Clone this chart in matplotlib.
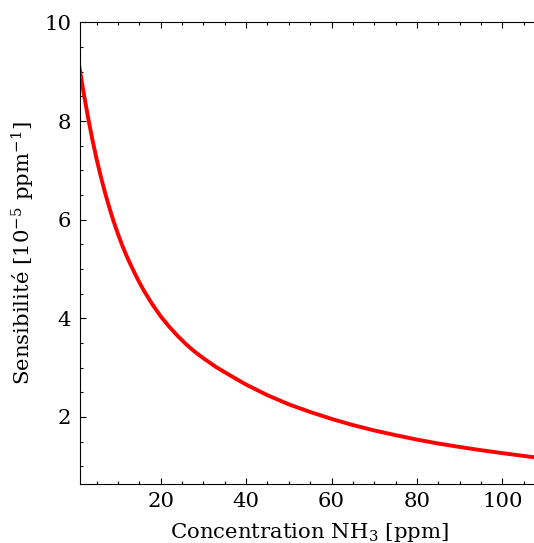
import numpy as np
import matplotlib
matplotlib.use('Agg')
import matplotlib.pyplot as plt
from matplotlib.ticker import MultipleLocator

# Concentration NH3 [ppm] and sensibility [1e-5 ppm^-1]
concentration = [1.0, 1.5, 2, 3, 4, 5, 6, 7, 8, 9, 10, 11, 12, 13, 14, 15, 16, 18,
                 20, 22, 24, 26, 28, 30, 33, 36, 40, 45, 50, 55, 60, 65, 70, 75,
                 80, 85, 90, 95, 100, 108.5]
sensibilite = [9.08, 8.82, 8.56, 8.07, 7.63, 7.23, 6.87, 6.54, 6.24, 5.96, 5.71,
               5.48, 5.27, 5.08, 4.90, 4.73, 4.57, 4.29, 4.04, 3.83, 3.64, 3.47,
               3.32, 3.19, 3.01, 2.855, 2.655, 2.44, 2.255, 2.10, 1.96, 1.835, 1.725,
               1.63, 1.54, 1.46, 1.39, 1.325, 1.265, 1.17]

xticks = [20, 40, 60, 80, 100]
yticks = [2, 4, 6, 8, 10]

plt.rcParams['font.family'] = 'DejaVu Serif'
plt.rcParams['mathtext.fontset'] = 'dejavuserif'
plt.rcParams['font.size'] = 15.3

fig = plt.figure(figsize=(5.34, 5.43), dpi=100)
ax = fig.add_axes([0.1489, 0.1087, 0.8600, 0.8499])

ax.plot(concentration, sensibilite, color='red', linewidth=2.8)

ax.set_xlim(1, 108.5)
ax.set_ylim(0.64, 10)
ax.set_xticks(xticks)
ax.set_yticks(yticks)
ax.xaxis.set_minor_locator(MultipleLocator(5))
ax.yaxis.set_minor_locator(MultipleLocator(0.5))
ax.tick_params(which='both', direction='in', top=True, right=False, width=0.8)
ax.tick_params(which='major', length=4.5, pad=6)
ax.tick_params(which='minor', length=2.2)
for s in ax.spines.values():
    s.set_linewidth(0.8)

ax.set_xlabel(r'Concentration NH$_3$ [ppm]', labelpad=7)
ax.set_ylabel(r'Sensibilité [10$^{-5}$ ppm$^{-1}$]', labelpad=5)

plt.savefig('out.png', dpi=100)
